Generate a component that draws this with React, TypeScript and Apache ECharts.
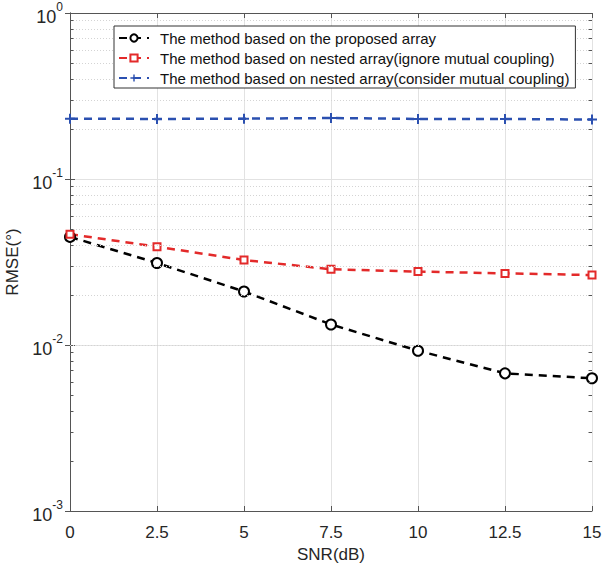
import React, { useEffect, useRef } from "react";
import * as echarts from "echarts";

const snr = [0, 2.5, 5, 7.5, 10, 12.5, 15];
const proposed = [0.0448, 0.0312, 0.0210, 0.0133, 0.00924, 0.00675, 0.00630];
const nestedIgnore = [0.0465, 0.0391, 0.0325, 0.0286, 0.0277, 0.0270, 0.0264];
const nestedConsider = [0.231, 0.230, 0.231, 0.233, 0.230, 0.230, 0.228];
const decades = [0.001, 0.01, 0.1];
const minorMultipliers = [2, 3, 4, 5, 6, 7, 8, 9];
const seriesNames = [
  "The method based on the proposed array",
  "The method based on nested array(ignore mutual coupling)",
  "The method based on nested array(consider mutual coupling)",
];

const FONT = "Arial";
const PLUS = "path://M3.2,0H4.8V3.2H8V4.8H4.8V8H3.2V4.8H0V3.2H3.2Z";

export default function App() {
  const ref = useRef<HTMLDivElement>(null);
  useEffect(() => {
    if (!ref.current) return;
    const chart = echarts.init(ref.current, undefined, { renderer: "svg" });
    const minors: number[] = [];
    decades.forEach((d) => minorMultipliers.forEach((m) => minors.push(+(d * m).toPrecision(3))));
    const mlData: any[] = [];
    minors.forEach((v) => {
      mlData.push({ yAxis: v, lineStyle: { color: "#d4d4d4", type: [1, 2], width: 1 } });
    });
    minors.forEach((v) => {
      mlData.push([
        { coord: [0, v], lineStyle: { color: "#555", type: "solid", width: 1 } },
        { coord: [0.1, v] },
      ]);
      mlData.push([
        { coord: [14.9, v], lineStyle: { color: "#555", type: "solid", width: 1 } },
        { coord: [15, v] },
      ]);
    });
    const sup = (v: number) => {
      const e = Math.round(Math.log10(v));
      return `{b|10}{s|${e}}`;
    };
    chart.setOption({
      animation: false,
      backgroundColor: "#fff",
      textStyle: { fontFamily: FONT },
      grid: { left: 70, right: 11, top: 13, bottom: 54, containLabel: false, outerBoundsMode: "none" },
      legend: {
        left: 114,
        top: 26,
        orient: "vertical",
        data: seriesNames,
        backgroundColor: "#fff",
        borderColor: "#333",
        borderWidth: 1,
        padding: [2, 6, 0, 4],
        itemGap: 0,
        itemWidth: 30,
        itemHeight: 9,
        textStyle: { fontFamily: FONT, fontSize: 15, color: "#111", lineHeight: 20, padding: [0, 0, 0, 6] },
        z: 10,
      },
      xAxis: [
        {
          type: "value",
          min: 0,
          max: 15,
          interval: 2.5,
          name: "SNR(dB)",
          nameLocation: "middle",
          nameGap: 32,
          nameTextStyle: { fontFamily: FONT, fontSize: 17, color: "#262626" },
          axisLine: { show: true, lineStyle: { color: "#555", width: 1 } },
          axisTick: { show: true, inside: true, length: 5, lineStyle: { color: "#555" } },
          axisLabel: { fontFamily: FONT, fontSize: 17, color: "#262626", margin: 13 },
          splitLine: { show: true, lineStyle: { color: "#e2e2e2", width: 1 } },
        },
        {
          type: "value",
          position: "top",
          min: 0,
          max: 15,
          interval: 2.5,
          axisLine: { show: true, lineStyle: { color: "#555", width: 1 } },
          axisTick: { show: true, inside: true, length: 5, lineStyle: { color: "#555" } },
          axisLabel: { show: false },
          splitLine: { show: false },
        },
      ],
      yAxis: [
        {
          type: "log",
          logBase: 10,
          min: 0.001,
          max: 1,
          name: "RMSE(°)",
          nameLocation: "middle",
          nameGap: 40,
          nameRotate: 90,
          nameTextStyle: { fontFamily: FONT, fontSize: 17, color: "#262626" },
          axisLine: { show: true, lineStyle: { color: "#555", width: 1 } },
          axisTick: { show: true, inside: true, length: 5, lineStyle: { color: "#555" } },
          axisLabel: {
            margin: 7,
            formatter: (v: number) => sup(v),
            rich: {
              b: { fontFamily: FONT, fontSize: 18, color: "#262626", lineHeight: 25, verticalAlign: "bottom" },
              s: { fontFamily: FONT, fontSize: 12, color: "#262626", lineHeight: 25, verticalAlign: "top" },
            },
          },
          splitLine: { show: true, lineStyle: { color: "#e2e2e2", width: 1 } },
        },
        {
          type: "log",
          logBase: 10,
          min: 0.001,
          max: 1,
          position: "right",
          axisLine: { show: true, lineStyle: { color: "#555", width: 1 } },
          axisTick: { show: true, inside: true, length: 5, lineStyle: { color: "#555" } },
          axisLabel: { show: false },
          splitLine: { show: false },
        },
      ],
      series: [
        {
          type: "line",
          name: "__grid",
          data: [],
          z: 1,
          silent: true,
          markLine: {
            silent: true,
            symbol: "none",
            label: { show: false },
            animation: false,
            data: mlData,
          },
        },
        {
          type: "line",
          name: seriesNames[0],
          data: snr.map((x, i) => [x, proposed[i]]),
          z: 3,
          symbol: "emptyCircle",
          symbolSize: 10,
          lineStyle: { color: "#000", width: 2.5, type: [8, 6] },
          itemStyle: { color: "#000", borderColor: "#000", borderWidth: 2 },
        },
        {
          type: "line",
          name: seriesNames[1],
          data: snr.map((x, i) => [x, nestedIgnore[i]]),
          z: 3,
          symbol: "emptyRect",
          symbolSize: 7,
          lineStyle: { color: "#e32a2a", width: 2.5, type: [8, 6] },
          itemStyle: { color: "#e32a2a", borderColor: "#e32a2a", borderWidth: 1.5 },
        },
        {
          type: "line",
          name: seriesNames[2],
          data: snr.map((x, i) => [x, nestedConsider[i]]),
          z: 3,
          symbol: PLUS,
          symbolSize: 10,
          lineStyle: { color: "#2b50b0", width: 2.5, type: [8, 6] },
          itemStyle: { color: "#2b50b0", borderWidth: 0 },
        },
      ],
    });
    return () => chart.dispose();
  }, []);
  return <div ref={ref} style={{ width: 603, height: 565, position: "absolute", left: 0, top: 0 }} />;
}
